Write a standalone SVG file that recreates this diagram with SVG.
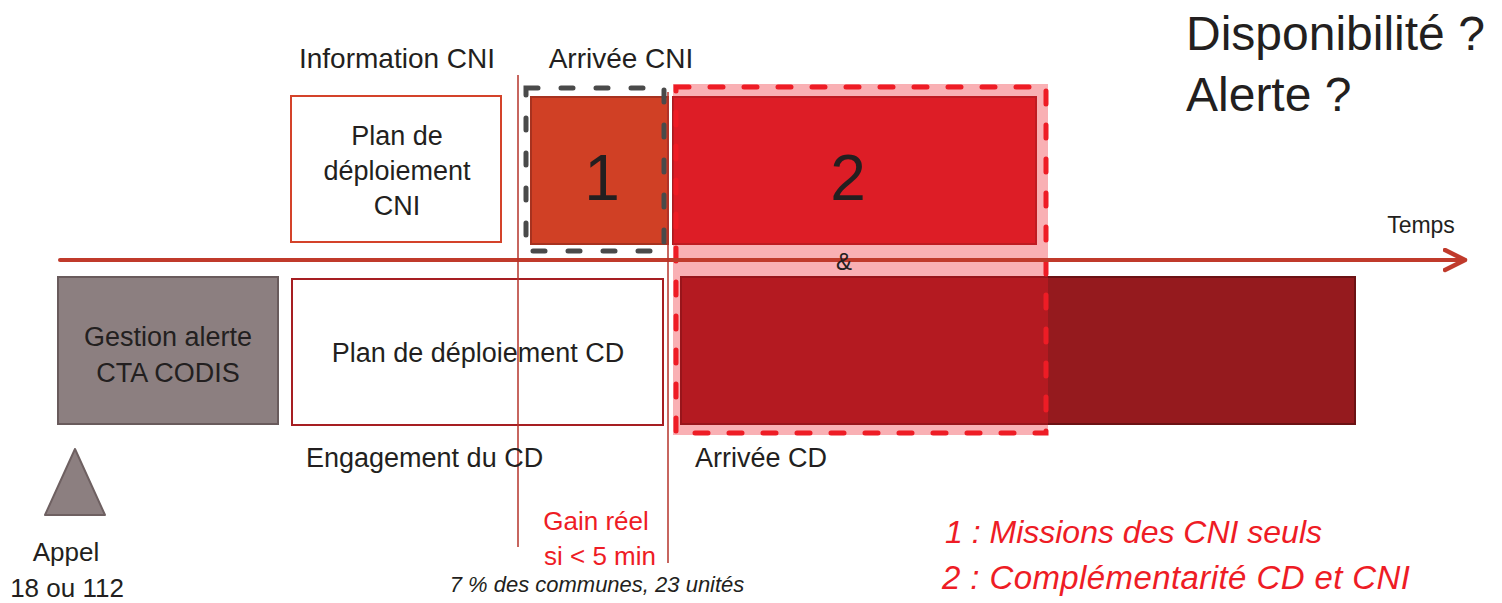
<svg xmlns="http://www.w3.org/2000/svg" width="1502" height="603" viewBox="0 0 1502 603">
  <style>
    text { font-family: "Liberation Sans", Arial, sans-serif; fill: #231F20; }
    .lbl { font-size: 27px; }
    .top { font-size: 28px; }
    .big { font-size: 48px; }
    .num { font-size: 64px; }
    .red { fill: #EE1C25; }
    .it { font-style: italic; }
    .vline { stroke: #B5332A; stroke-width: 1.5; fill: none; }
  </style>
  <defs>
    <marker id="chev" markerUnits="userSpaceOnUse" markerWidth="30" markerHeight="30" refX="22" refY="12" orient="auto">
      <path d="M2,2 L22,12 L2,22" fill="none" stroke="#C03A2B" stroke-width="4.5" stroke-linecap="round" stroke-linejoin="round"/>
    </marker>
  </defs>

  <rect width="1502" height="603" fill="#FFFFFF"/>

  <!-- title texts -->
  <g id="question">
    <text class="big" x="1186" y="50">Disponibilité ?</text>
    <text class="big" x="1186" y="111">Alerte ?</text>
  </g>

  <g id="labels-top">
    <text class="top" x="397" y="68" text-anchor="middle">Information CNI</text>
    <text class="top" x="621" y="68" text-anchor="middle">Arrivée CNI</text>
  </g>

  <!-- Plan de déploiement CNI -->
  <g id="plan-cni">
    <rect x="291" y="96" width="210" height="146" fill="#FFFFFF" stroke="#D4432A" stroke-width="2"/>
    <text class="lbl" x="397" y="145" text-anchor="middle">Plan de</text>
    <text class="lbl" x="397" y="180" text-anchor="middle">déploiement</text>
    <text class="lbl" x="397" y="215" text-anchor="middle">CNI</text>
  </g>

  <!-- Box 1 -->
  <g id="box1">
    <rect x="531" y="97" width="137" height="147" fill="#D04025" stroke="#A7321F" stroke-width="2"/>
    <text class="num" x="602" y="200" text-anchor="middle">1</text>
  </g>

  <!-- Box 2 -->
  <g id="box2">
    <rect x="673" y="97" width="363" height="147" fill="#D41E26" stroke="#A71B20" stroke-width="2"/>
  </g>

  <!-- Gestion alerte -->
  <g id="gestion">
    <rect x="58" y="277" width="220" height="147" fill="#8C7F80" stroke="#695B5C" stroke-width="2"/>
    <text class="lbl" x="168" y="346" text-anchor="middle">Gestion alerte</text>
    <text class="lbl" x="168" y="382" text-anchor="middle">CTA CODIS</text>
  </g>

  <!-- Plan de déploiement CD -->
  <g id="plan-cd">
    <rect x="292" y="279" width="371" height="146" fill="#FFFFFF" stroke="#A61E22" stroke-width="2"/>
    <text class="lbl" x="478" y="362" text-anchor="middle">Plan de déploiement CD</text>
  </g>

  <!-- CD intervention -->
  <g id="cd-bar">
    <rect x="681" y="277" width="674" height="147" fill="#951A1E" stroke="#6B1214" stroke-width="2"/>
  </g>

  <!-- Zone 2 highlight -->
  <g id="zone2">
    <rect x="673" y="84" width="375" height="351" fill="#EE1E28" fill-opacity="0.35"/>
    <rect x="676" y="87" width="370" height="346" fill="none" stroke="#EE1C25" stroke-width="5" stroke-dasharray="13 21" stroke-linecap="round"/>
    <text class="num" x="848" y="200" text-anchor="middle">2</text>
  </g>

  <!-- Zone 1 highlight -->
  <g id="zone1">
    <rect x="526" y="88" width="138" height="163" fill="none" stroke="#4A4A4A" stroke-width="5" stroke-dasharray="12 23" stroke-linecap="round"/>
  </g>

  <!-- connectors: timeline and markers -->
  <g id="connectors">
    <line x1="60" y1="260" x2="1465" y2="260" stroke="#C03A2B" stroke-width="4" stroke-linecap="round" marker-end="url(#chev)"/>
    <line class="vline" x1="518" y1="75" x2="518" y2="547"/>
    <line class="vline" x1="668" y1="92" x2="668" y2="563"/>
  </g>

  <g id="amp">
    <text x="844" y="270" text-anchor="middle" font-size="24">&amp;</text>
  </g>

  <g id="temps">
    <text x="1421" y="233" text-anchor="middle" font-size="23">Temps</text>
  </g>

  <g id="labels-bottom">
    <text class="lbl" x="306" y="467" font-size="26">Engagement du CD</text>
    <text class="lbl" x="695" y="467">Arrivée CD</text>
  </g>

  <!-- Appel -->
  <g id="appel">
    <polygon points="75,449 45,515 105,515" fill="#8C7F80" stroke="#6E6061" stroke-width="2" stroke-linejoin="round"/>
    <text x="66" y="561" text-anchor="middle" font-size="26">Appel</text>
    <text x="67" y="597" text-anchor="middle" font-size="26">18 ou 112</text>
  </g>

  <g id="gain">
    <text class="red" x="596" y="530" text-anchor="middle" font-size="26">Gain réel</text>
    <text class="red" x="600" y="565" text-anchor="middle" font-size="26">si &lt; 5 min</text>
  </g>

  <g id="stat">
    <text class="it" x="597" y="592" text-anchor="middle" font-size="22">7 % des communes, 23 unités</text>
  </g>

  <g id="legend">
    <text class="red it" x="945" y="543" font-size="32">1 : Missions des CNI seuls</text>
    <text class="red it" x="942" y="589" font-size="33" textLength="468">2 : Complémentarité CD et CNI</text>
  </g>
</svg>
